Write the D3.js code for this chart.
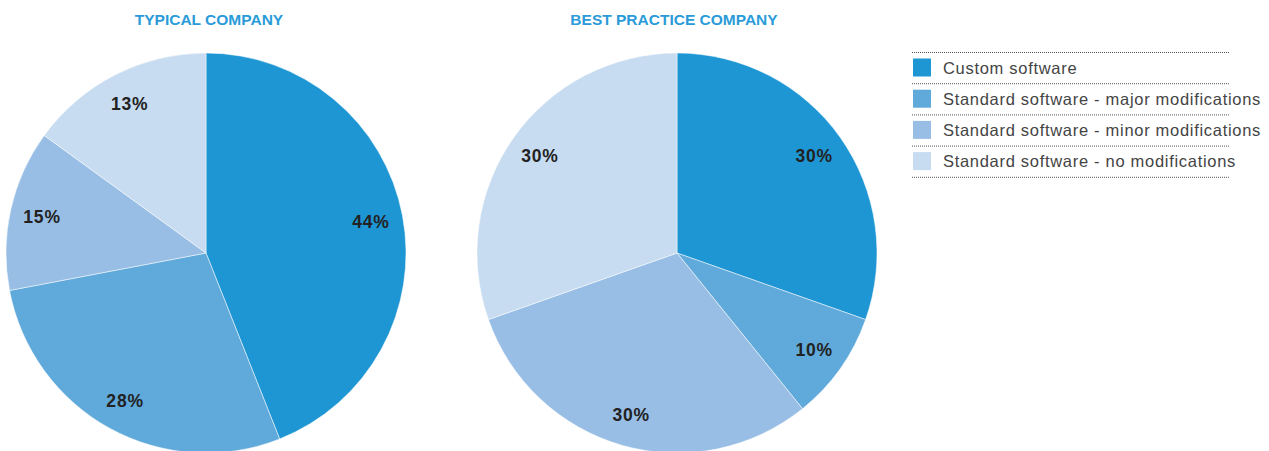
<!DOCTYPE html>
<html>
<head>
<meta charset="utf-8">
<script src="https://cdn.jsdelivr.net/npm/d3@7"></script>
<style>
  body { margin: 0; background: #fff; }
  svg { display: block; }
</style>
</head>
<body>
<svg id="chart" width="1269" height="451"></svg>
<script>
// categories, slice sizes as drawn, and the printed labels
const categories = ["Custom software", "Standard software - major modifications",
                    "Standard software - minor modifications", "Standard software - no modifications"];
const typicalValues = [44, 28, 13, 15];
const typicalLabels = ["44%", "28%", "15%", "13%"];
const bestValues = [30.4, 8.8, 30.4, 30.4];
const bestLabels = ["30%", "10%", "30%", "30%"];
const chartTitles = ["TYPICAL COMPANY", "BEST PRACTICE COMPANY"];
const colors = ["#1e96d4", "#60a9db", "#98bee5", "#c7dcf0"];

const svg = d3.select("#chart");
const radius = 200;
const font = "Liberation Sans, Arial, sans-serif";

const color = d3.scaleOrdinal().domain(categories).range(colors);

const pie = d3.pie()
    .sort(null)
    .value(d => d.value);

const arc = d3.arc().innerRadius(0).outerRadius(radius);
const labelArc = d3.arc().innerRadius(168).outerRadius(168);

function drawPie(values, labels, title, cx, cy, titleX) {
    let data = categories.map((c, i) => ({cat: c, value: values[i], label: labels[i]}));
    let g = svg.append("g").attr("transform", "translate(" + cx + "," + cy + ")");

    g.selectAll("path")
        .data(pie(data))
        .join("path")
        .attr("d", arc)
        .attr("fill", d => color(d.data.cat))
        .attr("stroke", "#fff")
        .attr("stroke-width", 0.5);

    g.selectAll("text")
        .data(pie(data))
        .join("text")
        .attr("transform", d => "translate(" + labelArc.centroid(d) + ")")
        .attr("text-anchor", "middle")
        .attr("dy", "0.36em")
        .attr("font-family", font)
        .attr("font-weight", "bold")
        .attr("font-size", 17.5)
        .attr("letter-spacing", 0.8)
        .attr("fill", "#222")
        .text(d => d.data.label);

    svg.append("text")
        .attr("x", titleX)
        .attr("y", 25)
        .attr("text-anchor", "middle")
        .attr("font-family", font)
        .attr("font-weight", "bold")
        .attr("font-size", 15.5)
        .attr("fill", "#2a9bd8")
        .text(title);
}

drawPie(typicalValues, typicalLabels, chartTitles[0], 206, 253, 209);
drawPie(bestValues, bestLabels, chartTitles[1], 677, 253, 674);

// legend
const legend = svg.append("g").attr("transform", "translate(912,52)");
const rowH = 31.2;

legend.selectAll("line")
    .data(d3.range(categories.length + 1))
    .join("line")
    .attr("x1", 0)
    .attr("x2", 318)
    .attr("y1", d => d * rowH + 0.5)
    .attr("y2", d => d * rowH + 0.5)
    .attr("stroke", "#555")
    .attr("stroke-width", 1)
    .attr("stroke-dasharray", "1,1");

let rows = legend.selectAll("g.row")
    .data(categories)
    .join("g")
    .attr("class", "row")
    .attr("transform", (d, i) => "translate(0," + (i * rowH) + ")");

rows.append("rect")
    .attr("x", 1)
    .attr("y", 6.5)
    .attr("width", 18)
    .attr("height", 18)
    .attr("fill", d => color(d));

rows.append("text")
    .attr("x", 31)
    .attr("y", 21.5)
    .attr("font-family", font)
    .attr("font-size", 16.5)
    .attr("letter-spacing", 0.7)
    .attr("fill", "#444")
    .text(d => d);
</script>
</body>
</html>
